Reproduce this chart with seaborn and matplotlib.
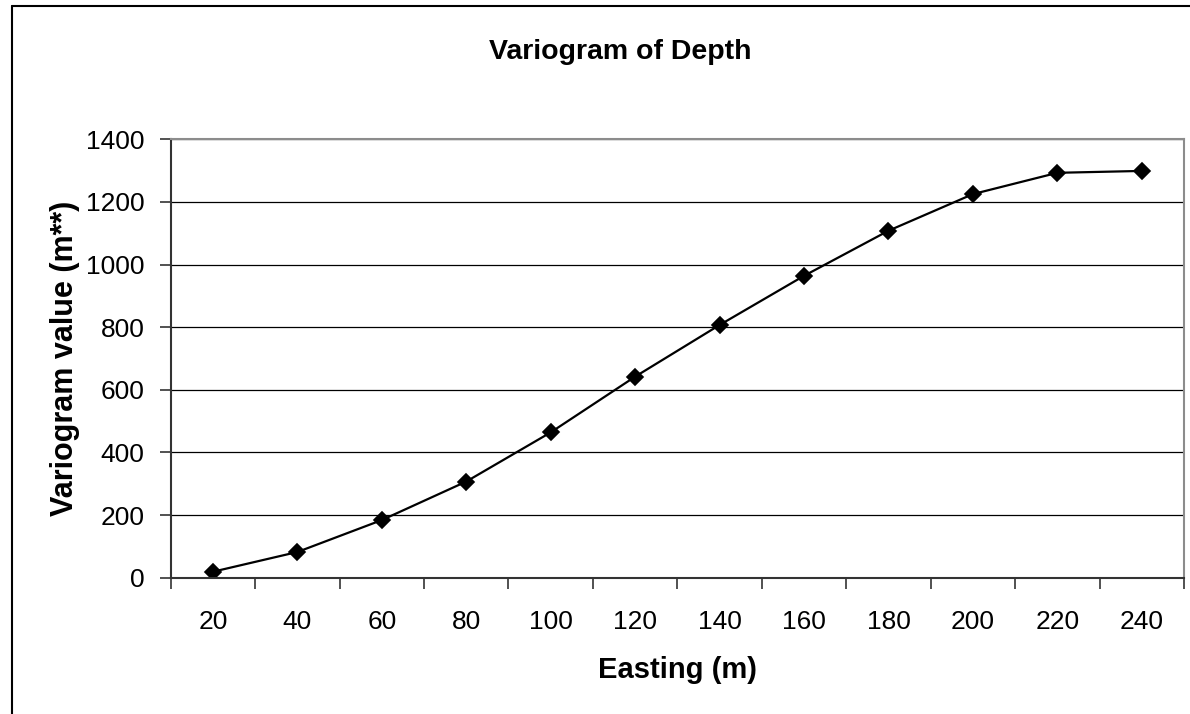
import matplotlib
matplotlib.use("Agg")
import matplotlib.pyplot as plt
import seaborn as sns
import pandas as pd
from matplotlib.lines import Line2D
from matplotlib.ticker import FixedLocator, NullFormatter

easting = ["20", "40", "60", "80", "100", "120", "140", "160", "180", "200", "220", "240"]
variogram = [19, 82, 184, 307, 464, 642, 807, 964, 1108, 1225, 1293, 1299]
y_ticks = [0, 200, 400, 600, 800, 1000, 1200, 1400]

df = pd.DataFrame({"Easting": easting, "Variogram": variogram})

sns.set_style("white")
plt.rcParams["font.family"] = ["Liberation Sans", "DejaVu Sans"]
plt.rcParams["text.color"] = "black"
plt.rcParams["axes.labelcolor"] = "black"
plt.rcParams["xtick.color"] = "black"
plt.rcParams["ytick.color"] = "black"

fig = plt.figure(figsize=(11.9, 7.14), dpi=100)
ax = fig.add_axes([0.1434, 0.1909, 0.995 - 0.1434, 0.8049 - 0.1909])

sns.pointplot(data=df, x="Easting", y="Variogram", ax=ax, color="black",
              markers="D", linestyles="-", linewidth=1.6, markersize=8,
              errorbar=None, native_scale=False)

ax.set_xlim(-0.5, len(easting) - 0.5)
ax.set_ylim(0, 1400)
ax.set_yticks(y_ticks)
ax.set_yticklabels([str(v) for v in y_ticks])
ax.yaxis.grid(True, color="black", linewidth=0.9)
ax.set_axisbelow(True)

ax.xaxis.set_minor_locator(FixedLocator([i - 0.5 for i in range(len(easting) + 1)]))
ax.xaxis.set_minor_formatter(NullFormatter())
ax.tick_params(axis="x", which="major", length=0, pad=23, labelsize=19, labelcolor="black")
ax.tick_params(axis="x", which="minor", length=8, width=1.2, color="#333333", direction="out", bottom=True)
ax.tick_params(axis="y", which="major", length=8, width=1.2, color="#333333", direction="out", left=True, pad=11, labelsize=19, labelcolor="black")

for side in ["left", "bottom"]:
    ax.spines[side].set_color("#333333")
    ax.spines[side].set_linewidth(1.5)
for side in ["top", "right"]:
    ax.spines[side].set_color("#8c8c8c")
    ax.spines[side].set_linewidth(1.5)

ax.set_xlabel("Easting (m)", fontsize=21, fontweight="bold", labelpad=16, color="black")
ax.set_ylabel("Variogram value (m**)", fontsize=22, fontweight="bold", labelpad=4, color="black")

fig.text(0.521, 0.927, "Variogram of Depth", ha="center", va="center",
         fontsize=20.5, fontweight="bold", color="black")

# outer chart border (left and top edges visible)
fig.add_artist(Line2D([0.0101, 0.0101], [0.0, 0.9916], transform=fig.transFigure, color="black", linewidth=1.5))
fig.add_artist(Line2D([0.0101, 1.0], [0.9916, 0.9916], transform=fig.transFigure, color="black", linewidth=1.5))

fig.savefig("out.png", dpi=100)
